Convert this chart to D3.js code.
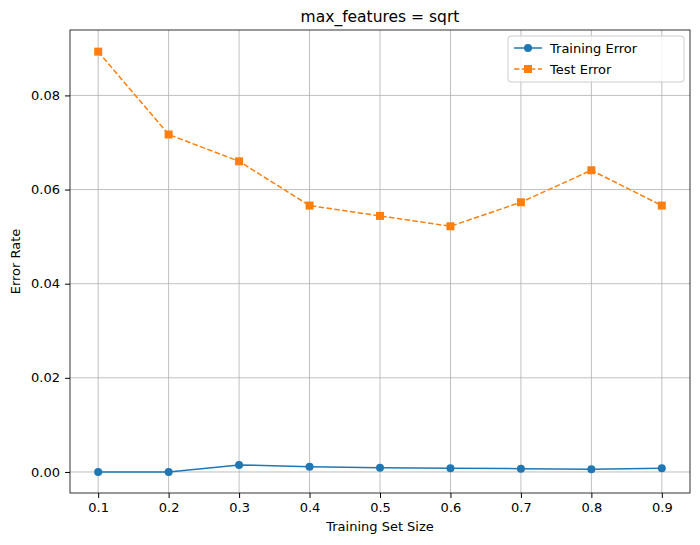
<!DOCTYPE html>
<html><head><meta charset="utf-8">
<script src="https://cdn.jsdelivr.net/npm/d3@7"></script>
<style>body{margin:0;background:#fff}text{font-family:"DejaVu Sans",sans-serif}</style>
</head><body>
<svg id="chart" width="700" height="545"></svg>
<script>
// data
var sizes = [0.1, 0.2, 0.3, 0.4, 0.5, 0.6, 0.7, 0.8, 0.9];
var trainError = [0.0000, 0.0000, 0.0015, 0.0011, 0.0009, 0.0008, 0.0007, 0.0006, 0.0008];
var testError = [0.0893, 0.0717, 0.0660, 0.0566, 0.0544, 0.0522, 0.0573, 0.0641, 0.0566];
var yTicks = [0, 0.02, 0.04, 0.06, 0.08];

var svg = d3.select("#chart");
var L = 70, R = 690, T = 30, B = 493;
var x = d3.scaleLinear().domain([0.06, 0.94]).range([L, R]);
var y = d3.scaleLinear().domain([-0.00447, 0.0939]).range([B, T]);

// grid
svg.append("g").selectAll("line").data(sizes).enter().append("line")
    .attr("x1", d => x(d)).attr("x2", d => x(d)).attr("y1", T).attr("y2", B)
    .style("stroke", "#b0b0b0").style("stroke-width", 0.8);
svg.append("g").selectAll("line").data(yTicks).enter().append("line")
    .attr("y1", d => y(d)).attr("y2", d => y(d)).attr("x1", L).attr("x2", R)
    .style("stroke", "#b0b0b0").style("stroke-width", 0.8);

// axes
var xAxis = svg.append("g").attr("transform", "translate(0," + B + ")")
    .call(d3.axisBottom(x).tickValues(sizes).tickFormat(d3.format(".1f")).tickSizeOuter(0).tickSize(5).tickPadding(5));
var yAxis = svg.append("g").attr("transform", "translate(" + L + ",0)")
    .call(d3.axisLeft(y).tickValues(yTicks).tickFormat(d3.format(".2f")).tickSizeOuter(0).tickSize(5).tickPadding(5));
[xAxis, yAxis].forEach(function (a) {
    a.select(".domain").remove();
    a.selectAll("text").style("font-size", "13px").style("fill", "#000").style("font-family", "DejaVu Sans");
    a.selectAll("line").style("stroke", "#000");
});
svg.append("rect").attr("x", L).attr("y", T).attr("width", R - L).attr("height", B - T)
    .style("fill", "none").style("stroke", "#000").style("stroke-width", 0.8);

// lines
var line = d3.line().x((d, i) => x(sizes[i])).y(d => y(d));
svg.append("path").attr("d", line(trainError))
    .style("fill", "none").style("stroke", "#1f77b4").style("stroke-width", 1.5);
svg.append("g").selectAll("circle").data(trainError).enter().append("circle")
    .attr("cx", (d, i) => x(sizes[i])).attr("cy", d => y(d)).attr("r", 4).style("fill", "#1f77b4");
svg.append("path").attr("d", line(testError))
    .style("fill", "none").style("stroke", "#ff7f0e").style("stroke-width", 1.5).style("stroke-dasharray", "5.5,2.4");
svg.append("g").selectAll("rect").data(testError).enter().append("rect")
    .attr("x", (d, i) => x(sizes[i]) - 4).attr("y", d => y(d) - 4).attr("width", 8).attr("height", 8)
    .style("fill", "#ff7f0e");

// labels
svg.append("text").attr("x", (L + R) / 2).attr("y", T - 8).attr("text-anchor", "middle")
    .style("font-size", "15.5px").text("max_features = sqrt");
svg.append("text").attr("x", (L + R) / 2).attr("y", B + 38).attr("text-anchor", "middle")
    .style("font-size", "13px").text("Training Set Size");
svg.append("text").attr("transform", "translate(" + 20 + "," + ((T + B) / 2) + ") rotate(-90)")
    .attr("text-anchor", "middle").style("font-size", "13px").text("Error Rate");

// legend
var lg = svg.append("g").attr("transform", "translate(" + 508 + "," + 36 + ")");
lg.append("rect").attr("width", 176).attr("height", 46).attr("rx", 3)
    .style("fill", "#fff").style("fill-opacity", 0.8).style("stroke", "#ccc");
lg.append("line").attr("x1", 6).attr("x2", 34).attr("y1", 12).attr("y2", 12).style("stroke", "#1f77b4").style("stroke-width", 1.5);
lg.append("circle").attr("cx", 20).attr("cy", 12).attr("r", 4).style("fill", "#1f77b4");
lg.append("text").attr("x", 42).attr("y", 16.5).style("font-size", "13px").text("Training Error");
lg.append("line").attr("x1", 6).attr("x2", 34).attr("y1", 33).attr("y2", 33).style("stroke", "#ff7f0e").style("stroke-width", 1.5).style("stroke-dasharray", "5.5,2.4");
lg.append("rect").attr("x", 16).attr("y", 29).attr("width", 8).attr("height", 8).style("fill", "#ff7f0e");
lg.append("text").attr("x", 42).attr("y", 37.5).style("font-size", "13px").text("Test Error");
</script>
</body></html>
